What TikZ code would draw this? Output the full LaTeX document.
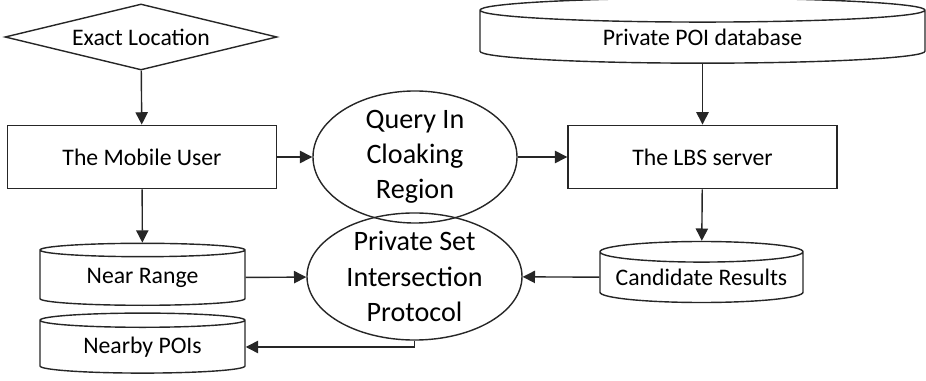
\documentclass[tikz,border=0pt]{standalone}
\usepackage{fontspec}
\setmainfont{Carlito}
\usetikzlibrary{arrows.meta, shapes.geometric}

\tikzset{
  line/.style={draw=black!85, line width=0.8pt},
  flow/.style={line, -{Triangle[length=7pt, width=7pt]}},
  boxtext/.style={font=\fontsize{13.5}{16}\selectfont, inner sep=0pt},
  proc/.style={boxtext, line, rectangle, minimum width=5.38cm, minimum height=1.27cm},
  store/.style={boxtext, line, cylinder, shape border rotate=90, aspect=0.12},
  query/.style={line, ellipse, inner sep=0pt, align=center,
                font=\fontsize{16}{20}\selectfont},
}

\begin{document}
\begin{tikzpicture}
\useasboundingbox (0,0) rectangle (18.52,7.62);

% top row
\node[boxtext, line, diamond, aspect=4.12, minimum width=5.44cm, minimum height=1.32cm] (exact) at (2.82,6.88) {Exact Location};
\node[store, minimum width=8.9cm, minimum height=1.3cm] (poidb) at (14.05,6.88) {Private POI database};

% middle row
\node[proc] (user) at (2.84,4.48) {The Mobile User};
\node[query, minimum width=4.08cm, minimum height=2.02cm] (cloak) at (8.30,4.48) {Query In\\Cloaking\\Region};
\node[proc] (lbs) at (14.05,4.48) {The LBS server};

% bottom rows
\node[store, minimum width=4.1cm, minimum height=1.24cm] (near) at (2.85,2.06) {Near Range};
\node[query, minimum width=4.3cm, minimum height=2.06cm] (psi) at (8.29,2.09) {Private Set\\Intersection\\Protocol};
\node[store, minimum width=4.06cm, minimum height=1.22cm] (cand) at (14.03,2.07) {Candidate Results};
\node[store, minimum width=4.1cm, minimum height=1.2cm] (nearby) at (2.85,0.68) {Nearby POIs};

% connectors
\draw[flow] (exact) -- (user);
\draw[flow] (user) -- (cloak);
\draw[flow] (cloak) -- (lbs);
\draw[flow] (poidb) -- (lbs);
\draw[flow] (lbs) -- (cand);
\draw[flow] (user) -- (near);
\draw[flow] (near) -- (psi);
\draw[flow] (cand) -- (psi);
\draw[flow] (psi.south) |- (nearby.east);

\end{tikzpicture}
\end{document}
